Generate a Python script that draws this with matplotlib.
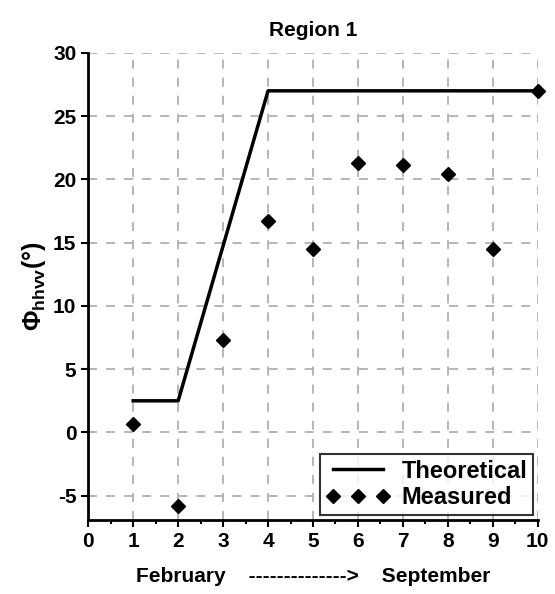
import numpy as np
import matplotlib.pyplot as plt
from matplotlib.ticker import MultipleLocator

# Theoretical curve
theo_x = [1, 2, 4, 10]
theo_y = [2.5, 2.5, 27, 27]

# Measured points
meas_x = [1, 2, 3, 4, 5, 6, 7, 8, 9, 10]
meas_y = [0.7, -5.8, 7.3, 16.7, 14.5, 21.3, 21.1, 20.4, 14.5, 27.0]

plt.rcParams['font.family'] = ['Liberation Sans', 'DejaVu Sans']
plt.rcParams['font.weight'] = 'bold'
plt.rcParams['axes.unicode_minus'] = False
plt.rcParams['mathtext.fontset'] = 'custom'
plt.rcParams['mathtext.rm'] = 'Liberation Sans'
plt.rcParams['mathtext.bf'] = 'Liberation Sans:bold'

fig = plt.figure(figsize=(5.55, 5.94), dpi=100)
ax = fig.add_axes([0.159, 0.125, 0.81, 0.786])

ax.plot(theo_x, theo_y, color='black', lw=2.5, label='Theoretical', zorder=3)
ax.plot(meas_x, meas_y, linestyle='none', marker='D', ms=7.5, color='black',
        label='Measured', zorder=4, clip_on=False)

ax.set_xlim(0, 10)
ax.set_ylim(-6.9, 30)
ax.xaxis.set_major_locator(MultipleLocator(1))
ax.xaxis.set_minor_locator(MultipleLocator(0.5))
ax.yaxis.set_major_locator(MultipleLocator(5))

ax.grid(True, which='major', color='#b0b0b0', linestyle=(0, (5, 5)), lw=1.3)
ax.set_axisbelow(True)

for s in ['top', 'right']:
    ax.spines[s].set_visible(False)
for s in ['left', 'bottom']:
    ax.spines[s].set_linewidth(2)

ax.tick_params(axis='both', which='major', direction='out', length=5, width=1.5,
               labelsize=15)
ax.tick_params(axis='x', which='minor', direction='out', length=3, width=1.5)

ax.set_title('Region 1', fontsize=15, fontweight='bold', pad=12)
ax.set_xlabel('February    -------------->    September', fontsize=15,
              fontweight='bold', labelpad=12)
ax.set_ylabel(r'$\Phi_{\mathbf{hhvv}}$(°)', fontsize=18, fontweight='bold')

leg = ax.legend(loc='lower right', numpoints=3, fontsize=17, frameon=True,
                fancybox=False, edgecolor='black', handlelength=2.7,
                handletextpad=0.5, borderaxespad=0.2, borderpad=0.25,
                labelspacing=0.15)
leg.get_frame().set_linewidth(1.5)

fig.savefig('out.png', dpi=100)
